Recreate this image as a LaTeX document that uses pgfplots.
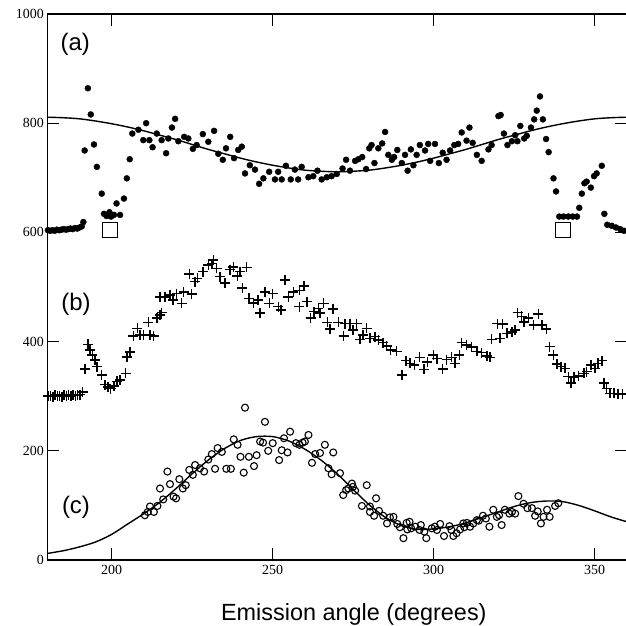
\documentclass[border=0pt]{standalone}
\usepackage{fontspec}
\setmainfont{Liberation Serif}
\newfontfamily\sansf{Liberation Sans}
\usepackage{pgfplots}
\pgfplotsset{compat=1.18}
\begin{document}
\begin{tikzpicture}
\begin{axis}[name=ax, scale only axis, width=579.6bp, height=546bp,
  xmin=180, xmax=360, ymin=0, ymax=1000,
  xtick={200,250,300,350}, ytick={0,200,400,600,800,1000},
  tick align=inside, major tick length=12bp,
  tick style={line width=1.1bp, black},
  axis line style={line width=1.4bp},
  ticklabel style={font=\rmfamily\fontsize{14}{14}\selectfont},
  /pgf/number format/assume math mode=true,
  /pgf/number format/set thousands separator={},
  xticklabel style={yshift=-2bp},
  clip=false]
% (a) fit curve
\addplot[black, line width=1.4bp, smooth] coordinates {
(180,811)(185,810)(190,808)(195,804)(200,799)(205,793)(210,786)(215,778)(220,770)(225,761)
(230,752)(235,744)(240,736)(245,729)(250,723)(255,718)(260,714)(265,712)(270,711)(275,712)
(280,714)(285,718)(290,723)(295,729)(300,736)(305,744)(310,752)(315,761)(320,770)(325,778)
(330,786)(335,793)(340,799)(345,804)(350,808)(355,810)(360,811)};
% (a) data
\addplot[only marks, mark=*, mark size=3bp, black] coordinates {
(180.2,604)(180.9,603)(181.6,604)(182.3,603)(183.0,605)(183.7,604)(184.4,605)(185.1,606)
(185.8,605)(186.5,606)(187.2,607)(187.9,606)(188.6,608)(189.3,607)(190.0,609)(190.7,611)(191.2,619)
(191.6,750)(192.6,864)(193.5,816)(194.5,761)(195.4,720)(196.9,671)(197.6,634)(198.4,630)
(199.3,637)(199.8,629)(200.7,632)(201.5,653)(202.6,632)(203.8,662)(204.7,699)(205.6,734)
(206.4,781)(208.3,788)(209.8,769)(210.7,800)(211.7,769)(212.7,756)(214,781)(215.5,769)
(216.9,745)(217.6,772)(218.7,792)(219.7,808)(220.7,767)(222.5,775)(223.8,772)(225.2,753)
(226.4,760)(228.3,780)(230,766)(231.8,786)(233.1,744)(234.5,733)(235.5,754)(236.8,775)
(238,736)(239.3,751)(240.4,757)(241.4,708)(242.9,723)(244.5,715)(245.8,689)(247.1,699)
(248.9,711)(250.7,697)(251.7,711)(252.8,697)(254.1,722)(255.6,697)(256.9,715)(257.9,697)
(259,720)(261.1,701)(262.6,703)(263.9,713)(265.2,697)(266.8,701)(268.3,703)(269.9,707)
(271.7,717)(272.8,733)(274,713)(275.6,731)(276.6,734)(277.8,738)(279,716)(280,754)
(280.7,760)(281.6,727)(282.8,754)(284,763)(284.9,784)(285.9,742)(287,733)(287.7,738)
(288.7,751)(290.1,727)(291.1,742)(291.9,713)(292.9,752)(293.7,723)(294.7,742)(295.7,760)
(297.3,750)(298.3,762)(298.9,731)(300.4,762)(301.6,727)(302.8,746)(304,733)(305.1,750)
(306.4,760)(307.6,762)(308.7,783)(310.2,768)(311.1,792)(312.1,764)(313.4,742)(314.9,731)
(317,752)(318,760)(320.1,813)(320.8,815)(321.8,781)(322.9,760)(324.3,767)(325.3,778)
(326,767)(326.9,795)(328.1,772)(328.9,777)(330.2,792)(331.2,807)(332,823)(333,849)
(333.9,807)(334.9,771)(335.7,747)(337.2,699)(338,675)(339,629)(340.3,629)(341.8,629)
(343.2,629)(344.5,629)(345.2,645)(346,671)(346.8,690)(347.5,693)(348.8,682)(349.8,703)
(350.6,708)(352.2,722)(353,634)(353.9,614)(355.3,612)(356.6,609)(357.9,606)(359.1,603)};
% squares
\addplot[only marks, mark=square, mark size=7.5bp, line width=1.1bp, black] coordinates {(199.5,604)(340.2,604)};
% (b) data
\addplot[only marks, mark=+, mark size=5bp, line width=1.5bp, black] coordinates {
(180.3,300)(181,301)(181.7,299)(182.4,302)(183.1,300)(183.8,301)(184.5,299)(185.2,302)
(185.9,301)(186.6,303)(187.3,300)(188,302)(188.7,301)(189.4,302)(190.1,303)(191,308)
(191.7,350)(192.7,395)(193.3,385)(194,375)(194.8,366)(195.5,354)(196.9,339)(197.9,321)
(198.9,317)(199.7,314)(200.7,319)(201.6,327)(202.6,330)(204.3,342)(204.8,372)(205.7,381)
(206.7,410)(208,424)(208.8,412)(209.8,412)(211.4,435)(211.9,412)(213,410)(214,443)
(215,449)(215.5,453)(215,482)(216.6,482)(218.1,485)(219.1,476)(220.2,488)(221.7,470)
(222.3,491)(224.8,487)(224.1,524)(225.9,510)(226.6,516)(228.3,528)(230,540)(231.1,543)
(231.6,549)(232.6,534)(233.6,519)(235.2,507)(236.7,532)(237.8,537)(239,520)(239.8,528)
(241.9,536)(240.6,498)(242.7,479)(244,471)(245.5,476)(246.1,452)(247.6,491)(249,470)
(250,488)(251.8,464)(252.5,458)(253.8,513)(254.9,482)(256.4,491)(258.3,494)(259.7,502)
(258.3,464)(260.6,473)(261.8,443)(262.8,455)(264.2,461)(265.8,470)(264.7,452)(268.8,460)
(267,435)(267.8,423)(270.4,435)(272,410)(272.5,433)(274,433)(275,421)(276.1,433)
(277.1,404)(278.1,412)(279.2,424)(280.2,406)(281.8,409)(282.8,403)(284.3,398)(285.4,392)
(286.6,385)(288.5,382)(290.1,339)(291.4,365)(292.7,360)(294,357)(295.6,371)(297,349)
(298,363)(299.9,375)(301.1,369)(302.8,350)(304,367)(305.6,371)(306.6,360)(308,375)
(308.7,398)(310.2,394)(311.8,390)(313.4,382)(314.9,380)(316.5,374)(317.5,371)(318,404)
(319.8,433)(321.4,432)(320.6,406)(322.7,415)(324.3,418)(325.3,421)(326.1,453)(327.3,446)
(328.1,436)(329.4,443)(331,430)(332.5,451)(333.6,430)(335,423)(336,391)(337.2,375)
(338.3,359)(339.6,354)(340.8,351)(341.8,336)(342.6,324)(343.6,335)(345,337)(346.6,342)
(347.5,345)(348.8,357)(350.1,351)(351.1,360)(352.2,365)(352.9,324)(353.7,314)(354.8,305)
(356,305)(357.3,304)(358.7,304)};
% (c) fit curve
\addplot[black, line width=1.4bp, smooth] coordinates {
(180,12)(185,17)(190,24)(195,33)(200,47)(205,66)(210,85)(215,106)(220,131)(225,158)
(230,183)(235,204)(240,219)(245,226)(250,226)(255,218)(260,203)(265,183)(270,158)(275,129)
(280,101)(285,78)(290,63)(295,56)(300,57)(305,61)(310,68)(315,78)(320,88)(325,98)
(330,105)(335,108)(340,107)(345,100)(350,90)(355,79)(360,70)};
% (c) data
\addplot[only marks, mark=o, mark size=3.5bp, line width=1.1bp, black] coordinates {
(210.3,82)(211.2,88)(211.9,98)(213.1,88)(214.2,99)(215,131)(216,111)(217.3,162)(218.1,139)
(219.2,116)(220,113)(221,148)(222.1,131)(223,137)(224.1,165)(225.2,156)(225.9,174)
(227.4,168)(228.7,162)(230,184)(231.1,194)(232.1,167)(232.9,205)(234.2,198)(235.6,167)
(237,167)(237.9,221)(239.1,211)(240,189)(241,160)(242.6,189)(244.2,172)(245,192)
(241.4,279)(246.1,217)(247,215)(247.6,253)(248.6,200)(250,214)(252,183)(252.8,201)
(253.5,223)(254.6,197)(255.4,235)(257.2,214)(258.3,211)(259.3,215)
(260,217)(261.1,229)(262.2,178)(263.2,194)(264.7,196)(266.2,211)(268.8,197)(267.3,168)
(268.3,157)(270.9,159)(271.9,119)(272.8,128)(273.5,131)(274.6,140)(274.9,134)(275.6,127)
(279.2,137)(277.7,99)(280.2,98)(280.2,88)(282.1,113)(283,90)(281.5,81)(284.3,81)
(285.5,67)(286.4,78)(287.5,79)(288.7,66)(289.5,60)(290.6,40)(291.6,68)(291.8,56)
(292.5,70)(293,58)(294.3,61)(295.6,55)(296,64)(297.1,52)(297.7,40)(299.4,58)(300.4,61)
(301,55)(302,66)(303.2,44)(304.9,62)(305.5,55)(306.1,44)(307.1,49)(308.2,56)(309.2,67)
(309.5,60)(310.3,68)(311.3,61)(312.3,67)(313.4,73)(314,72)(315.3,81)(316.2,76)(317.3,61)
(318.5,92)(319.6,79)(320.3,82)(321.1,64)(322.1,92)(323.5,85)(324.3,88)(325.3,85)
(326.3,117)(327.9,103)(329.1,95)(330.5,95)(331.5,81)(332.3,89)(333.3,67)(334.1,79)
(335.2,92)(336,79)(337.7,99)(338.7,104)};
% panel labels
\node[font=\sansf\fontsize{24}{24}\selectfont] at (axis cs:188.7,945) {(a)};
\node[font=\sansf\fontsize{24}{24}\selectfont] at (axis cs:188.9,469) {(b)};
\node[font=\sansf\fontsize{24}{24}\selectfont] at (axis cs:188.9,97) {(c)};
\node[font=\sansf\fontsize{23.5}{24}\selectfont, anchor=base, yshift=-60.7bp] at (axis cs:275.2,0) {Emission angle (degrees)};
\end{axis}
\pgfresetboundingbox
\path[use as bounding box] ([shift={(-47.3bp,-66bp)}]ax.south west) rectangle ([shift={(578.7bp,14bp)}]ax.north west);
\end{tikzpicture}
\end{document}
